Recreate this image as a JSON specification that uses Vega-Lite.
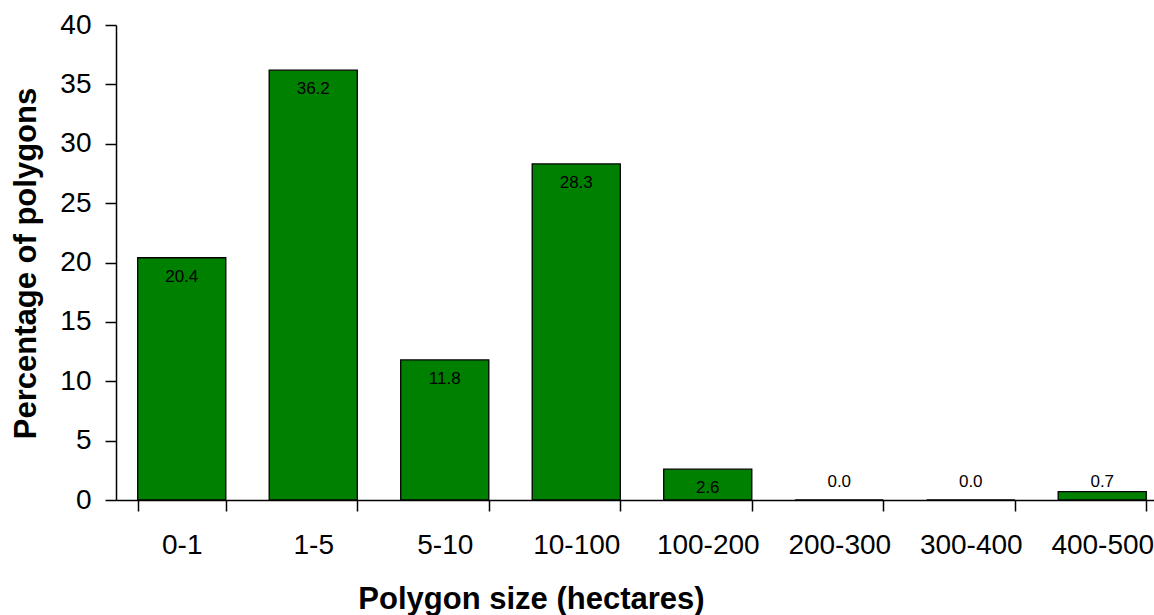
{
  "$schema": "https://vega.github.io/schema/vega-lite/v6.json",
  "autosize": {"type": "none"},
  "padding": {"left": 116, "top": 25, "right": 0, "bottom": 115},
  "width": 1038,
  "height": 475,
  "background": "white",
  "config": {
    "view": {"stroke": null},
    "font": "Liberation Sans",
    "axis": {
      "domainColor": "black",
      "domainWidth": 1.5,
      "tickColor": "black",
      "tickWidth": 1.5,
      "tickSize": 11,
      "labelColor": "black",
      "labelFont": "Liberation Sans",
      "labelFontSize": 28,
      "titleFont": "Liberation Sans",
      "titleFontSize": 31,
      "titleFontWeight": "bold",
      "titleColor": "black",
      "grid": false
    }
  },
  "data": {
    "values": [
      {"size": "0-1", "value": 20.4},
      {"size": "1-5", "value": 36.2},
      {"size": "5-10", "value": 11.8},
      {"size": "10-100", "value": 28.3},
      {"size": "100-200", "value": 2.6},
      {"size": "200-300", "value": 0.0},
      {"size": "300-400", "value": 0.0},
      {"size": "400-500", "value": 0.7}
    ]
  },
  "encoding": {
    "x": {
      "field": "size",
      "type": "nominal",
      "sort": null,
      "scale": {"range": [0, 1052], "paddingInner": 0.33, "paddingOuter": 0.165},
      "axis": {
        "title": "Polygon size (hectares)",
        "labelAngle": 0,
        "labelPadding": 20,
        "tickBand": "extent",
        "titleX": 415,
        "titleY": 108,
        "titleAlign": "center",
        "titleBaseline": "alphabetic"
      }
    }
  },
  "layer": [
    {
      "mark": {"type": "bar", "color": "#008000", "stroke": "black", "strokeWidth": 1.3},
      "encoding": {
        "y": {
          "field": "value",
          "type": "quantitative",
          "scale": {"domain": [0, 40], "nice": false},
          "axis": {
            "title": "Percentage of polygons",
            "values": [0, 5, 10, 15, 20, 25, 30, 35, 40],
            "labelPadding": 14,
            "titleAngle": 270,
            "titleX": -81,
            "titleY": 238,
            "titleAlign": "center",
            "titleBaseline": "alphabetic"
          }
        }
      }
    },
    {
      "transform": [{"filter": "datum.value >= 2"}],
      "mark": {"type": "text", "fontSize": 17, "color": "black", "baseline": "alphabetic", "dy": 24, "font": "Liberation Sans"},
      "encoding": {
        "y": {"field": "value", "type": "quantitative"},
        "text": {"field": "value", "type": "quantitative", "format": ".1f"}
      }
    },
    {
      "transform": [{"filter": "datum.value < 2"}],
      "mark": {"type": "text", "fontSize": 17, "color": "black", "baseline": "alphabetic", "dy": -13, "font": "Liberation Sans"},
      "encoding": {
        "y": {"datum": 0, "type": "quantitative"},
        "text": {"field": "value", "type": "quantitative", "format": ".1f"}
      }
    }
  ]
}
